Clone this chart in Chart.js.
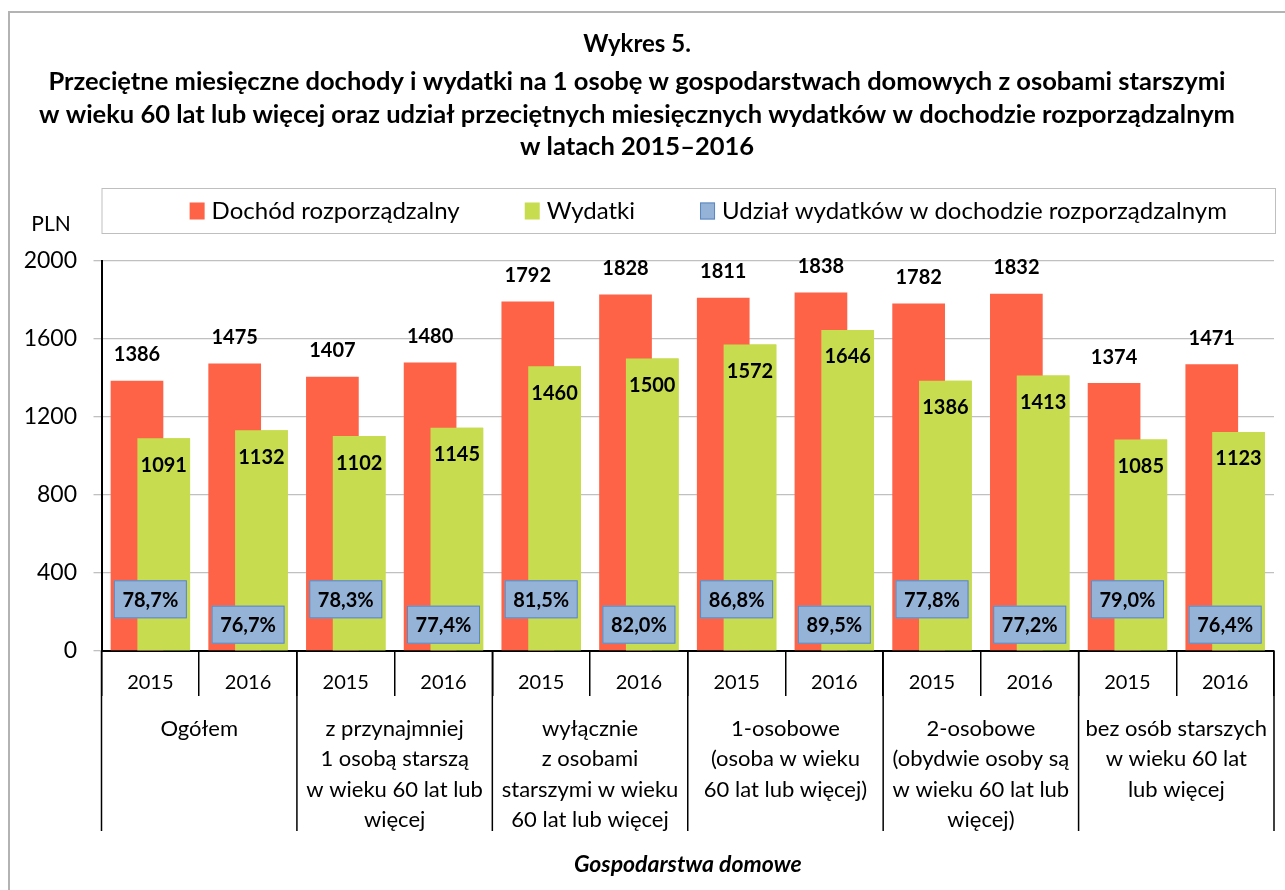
<!DOCTYPE html>
<html lang="pl">
<head>
<meta charset="utf-8">
<title>Wykres 5</title>
<script src="https://cdn.jsdelivr.net/npm/chart.js@4.4.1/dist/chart.umd.min.js"></script>
<style>
  html, body { margin: 0; padding: 0; background: #fff; }
  canvas { display: block; }
</style>
</head>
<body>
<canvas id="chart" width="1285" height="890"></canvas>
<script>
const years = ['2015', '2016', '2015', '2016', '2015', '2016', '2015', '2016', '2015', '2016', '2015', '2016'];
const groups = [
    ['Ogółem'],
    ['z przynajmniej', '1 osobą starszą', 'w wieku 60 lat lub', 'więcej'],
    ['wyłącznie', 'z osobami', 'starszymi w wieku', '60 lat lub więcej'],
    ['1-osobowe', '(osoba w wieku', '60 lat lub więcej)'],
    ['2-osobowe', '(obydwie osoby są', 'w wieku 60 lat lub', 'więcej)'],
    ['bez osób starszych', 'w wieku 60 lat', 'lub więcej']
];
const income = [1386, 1475, 1407, 1480, 1792, 1828, 1811, 1838, 1782, 1832, 1374, 1471];
const expenses = [1091, 1132, 1102, 1145, 1460, 1500, 1572, 1646, 1386, 1413, 1085, 1123];
const share = [78.7, 76.7, 78.3, 77.4, 81.5, 82.0, 86.8, 89.5, 77.8, 77.2, 79.0, 76.4];
const yTicks = [0, 400, 800, 1200, 1600, 2000];

const FONT = 'Lato, "Open Sans", sans-serif';
const RED = '#fe6347';
const GREEN = '#c8dc4f';
const BLUE = '#95b3d7';
const BLUE_EDGE = '#5b87c0';

Chart.defaults.font.family = FONT;
Chart.defaults.color = '#000';

const fmtPct = v => v.toFixed(1).replace('.', ',') + '%';

const decorations = {
    id: 'decorations',
    beforeDraw(chart) {
        const ctx = chart.ctx;
        ctx.save();
        ctx.fillStyle = '#fff';
        ctx.fillRect(0, 0, chart.width, chart.height);
        // frame, only left and top edge are in the picture
        ctx.strokeStyle = '#b3b3b3';
        ctx.lineWidth = 2;
        ctx.beginPath();
        ctx.moveTo(9, chart.height);
        ctx.lineTo(9, 12);
        ctx.lineTo(chart.width, 12);
        ctx.stroke();
        ctx.restore();
    },
    afterDatasetsDraw(chart) {
        const ctx = chart.ctx;
        const y = chart.scales.y;
        // excel overlap: green bars sit on top of the red ones
        chart.getDatasetMeta(1).controller.draw();

        ctx.save();
        ctx.font = 'bold 20px ' + FONT;
        ctx.fillStyle = '#000';
        ctx.textAlign = 'center';
        ctx.textBaseline = 'middle';
        chart.getDatasetMeta(0).data.forEach((bar, i) => {
            ctx.fillText(income[i], bar.x, bar.y - 26);
        });
        chart.getDatasetMeta(1).data.forEach((bar, i) => {
            ctx.fillText(expenses[i], bar.x, bar.y + 27);
        });

        // share labels in blue boxes, alternating height
        chart.getDatasetMeta(2).data.forEach((pt, i) => {
            const cy = y.getPixelForValue(i % 2 === 0 ? 265 : 135);
            const w = 73, h = 38;
            ctx.fillStyle = BLUE;
            ctx.fillRect(pt.x - w / 2, cy - h / 2, w, h);
            ctx.strokeStyle = BLUE_EDGE;
            ctx.lineWidth = 1;
            ctx.strokeRect(pt.x - w / 2 + 0.5, cy - h / 2 + 0.5, w - 1, h - 1);
            ctx.fillStyle = '#000';
            ctx.fillText(fmtPct(share[i]), pt.x, cy + 1);
        });
        ctx.restore();
    },
    afterDraw(chart) {
        const ctx = chart.ctx;
        const x = chart.scales.x;
        const area = chart.chartArea;
        ctx.save();

        // group separators + group names
        ctx.strokeStyle = '#000';
        ctx.lineWidth = 1.5;
        for (let g = 0; g <= groups.length; g++) {
            let bx;
            if (g === 0) bx = x.left;
            else if (g === groups.length) bx = x.right;
            else bx = (x.getPixelForValue(2 * g - 1) + x.getPixelForValue(2 * g)) / 2;
            ctx.beginPath();
            ctx.moveTo(bx, x.top);
            ctx.lineTo(bx, x.top + 180);
            ctx.stroke();
        }
        ctx.font = '22px ' + FONT;
        ctx.fillStyle = '#000';
        ctx.textAlign = 'center';
        ctx.textBaseline = 'middle';
        groups.forEach((lines, g) => {
            const cx = (x.getPixelForValue(2 * g) + x.getPixelForValue(2 * g + 1)) / 2;
            lines.forEach((t, k) => ctx.fillText(t, cx, x.top + 78 + k * 30.3));
        });

        // unit
        ctx.font = '21px ' + FONT;
        ctx.fillText('PLN', 51, area.top - 37);

        // legend in a framed box
        const lx0 = area.left, lx1 = area.right + 1;
        const ly0 = area.top - 73, ly1 = area.top - 28;
        ctx.strokeStyle = '#bfbfbf';
        ctx.lineWidth = 1;
        ctx.strokeRect(lx0 + 0.5, ly0 + 0.5, lx1 - lx0, ly1 - ly0);
        ctx.font = '24px ' + FONT;
        const items = chart.data.datasets.map(ds => ({
            text: ds.label, fill: ds.backgroundColor, edge: ds.legendEdge || null,
            w: 15 + 7 + ctx.measureText(ds.label).width
        }));
        const gap = 65;
        const total = items.reduce((s, it) => s + it.w, 0) + gap * (items.length - 1);
        let cx = (lx0 + lx1) / 2 + 20 - total / 2;
        const cy = (ly0 + ly1) / 2;
        ctx.textAlign = 'left';
        items.forEach(it => {
            ctx.fillStyle = it.fill;
            ctx.fillRect(cx, cy - 8, 15, 17);
            if (it.edge) {
                ctx.strokeStyle = it.edge;
                ctx.strokeRect(cx + 0.5, cy - 7.5, 14, 16);
            }
            ctx.fillStyle = '#000';
            ctx.fillText(it.text, cx + 22, cy + 1);
            cx += it.w + gap;
        });
        ctx.restore();
    }
};

new Chart(document.getElementById('chart'), {
    type: 'bar',
    data: {
        labels: years,
        datasets: [
            {
                label: 'Dochód rozporządzalny',
                data: income,
                backgroundColor: RED,
                categoryPercentage: 0.5475,
                barPercentage: 1.97
            },
            {
                label: 'Wydatki',
                data: expenses,
                backgroundColor: GREEN,
                categoryPercentage: 0.5475,
                barPercentage: 1.97
            },
            {
                type: 'line',
                label: 'Udział wydatków w dochodzie rozporządzalnym',
                data: share,
                yAxisID: 'yShare',
                showLine: false,
                pointRadius: 0,
                pointHoverRadius: 0,
                backgroundColor: BLUE,
                borderColor: BLUE_EDGE,
                legendEdge: BLUE_EDGE
            }
        ]
    },
    options: {
        responsive: false,
        animation: false,
        devicePixelRatio: 1,
        layout: { padding: { top: 20, right: 11, bottom: 0, left: 0 } },
        plugins: {
            legend: { display: false },
            tooltip: { enabled: false },
            title: {
                display: true,
                text: 'Wykres 5.',
                font: { size: 24, weight: 'bold', lineHeight: '30px' },
                padding: { top: 9, bottom: 0 }
            },
            subtitle: {
                display: true,
                text: [
                    'Przeciętne miesięczne dochody i wydatki na 1 osobę w gospodarstwach domowych z osobami starszymi',
                    'w wieku 60 lat lub więcej oraz udział przeciętnych miesięcznych wydatków w dochodzie rozporządzalnym',
                    'w latach 2015–2016'
                ],
                color: '#000',
                font: { size: 25.5, weight: 'bold', lineHeight: '32.5px' },
                padding: { top: 6.75, bottom: 97.75 }
            }
        },
        scales: {
            x: {
                offset: true,
                grid: {
                    offset: true,
                    drawOnChartArea: false,
                    drawTicks: true,
                    tickLength: 45,
                    color: '#000',
                    lineWidth: 1.5
                },
                border: { color: '#000', width: 2 },
                ticks: {
                    autoSkip: false,
                    maxRotation: 0,
                    padding: -25,
                    font: { size: 20 }
                },
                title: {
                    display: true,
                    text: 'Gospodarstwa domowe',
                    font: { size: 23, weight: 'bold', style: 'italic' },
                    padding: { top: 13, bottom: 12 }
                },
                afterFit(scale) { scale.height = 239; }
            },
            y: {
                min: yTicks[0],
                max: yTicks[yTicks.length - 1],
                ticks: {
                    stepSize: yTicks[1] - yTicks[0],
                    padding: 16.5,
                    font: { size: 23 },
                    format: { useGrouping: false }
                },
                grid: { color: '#c0c0c0', lineWidth: 1.3, tickLength: 8 },
                border: { color: '#000', width: 2 },
                afterFit(scale) { scale.width = 101.5; }
            },
            yShare: { display: false, min: 0, max: 100 }
        }
    },
    plugins: [decorations]
});
</script>
</body>
</html>
